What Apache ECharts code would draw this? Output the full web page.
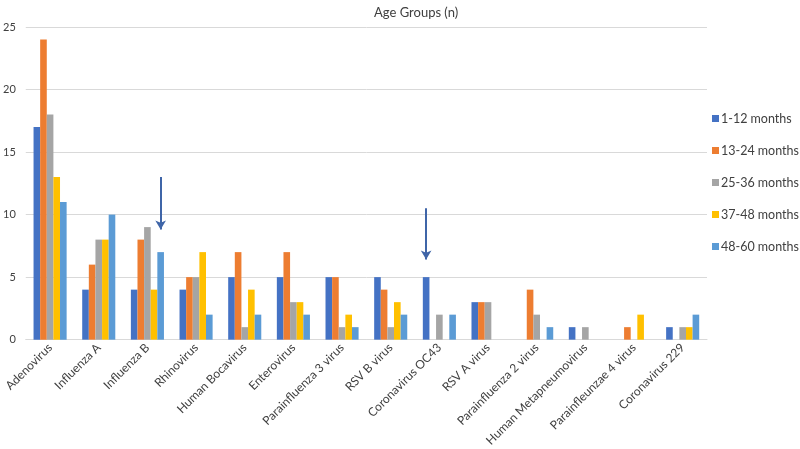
<!DOCTYPE html>
<html><head><meta charset="utf-8">
<script src="https://cdn.jsdelivr.net/npm/echarts@6/dist/echarts.min.js"></script>
<style>html,body{margin:0;padding:0;background:#fff}#c{width:800px;height:449px}</style>
</head><body><div id="c"></div>
<script>
const categories = ['Adenovirus','Influenza A','Influenza B','Rhinovirus','Human Bocavirus','Enterovirus','Parainfluenza 3 virus','RSV B virus','Coronavirus OC43','RSV A virus','Parainfluenza 2 virus','Human Metapneumovirus','Parainfleunzae 4 virus','Coronavirus 229'];
const m1_12  = [17, 4, 4, 4, 5, 5, 5, 5, 5, 3, null, 1, null, 1];
const m13_24 = [24, 6, 8, 5, 7, 7, 5, 4, null, 3, 4, null, 1, null];
const m25_36 = [18, 8, 9, 5, 1, 3, 1, 1, 2, 3, 2, 1, null, 1];
const m37_48 = [13, 8, 4, 7, 4, 3, 2, 3, null, null, null, null, 2, 1];
const m48_60 = [11, 10, 7, 2, 2, 2, 1, 2, 2, null, 1, null, null, 2];
const seriesNames = ['1-12 months','13-24 months','25-36 months','37-48 months','48-60 months'];
const seriesData = [m1_12, m13_24, m25_36, m37_48, m48_60];
const colors = ['#4472C4','#ED7D31','#A5A5A5','#FFC000','#5B9BD5'];
const yTicks = [0, 5, 10, 15, 20, 25];
// arrows: [category, series index, from value, to value]
const arrows = [['Influenza B', 4, 13, 8.8], ['Coronavirus OC43', 0, 10.5, 6.4]];

const font = 'Lato, Open Sans, sans-serif';
const chart = echarts.init(document.getElementById('c'));
const series = seriesNames.map((n, i) => {
  const s = {
    name: n, type: 'bar', data: seriesData[i],
    itemStyle: {color: colors[i]},
    barGap: 0, barCategoryGap: '32%'
  };
  const arr = arrows.filter(a => a[1] === i);
  if (arr.length) {
    s.markLine = {
      silent: true, symbol: ['none', 'arrow'], symbolSize: [8, 9],
      label: {show: false},
      lineStyle: {color: '#3F65A8', width: 2, type: 'solid'},
      data: arr.map(a => [{coord: [a[0], a[2]]}, {coord: [a[0], a[3]]}])
    };
  }
  return s;
});
chart.setOption({
  animation: false,
  title: {text: 'Age Groups (n)', left: 369, top: 1,
    textStyle: {fontFamily: font, fontSize: 13, fontWeight: 'normal', color: '#404040'}},
  legend: {orient: 'vertical', left: 707, top: 107, itemWidth: 7, itemHeight: 7, itemGap: 19,
    icon: 'rect', data: seriesNames,
    textStyle: {fontFamily: font, fontSize: 12.5, color: '#404040', padding: [0,0,0,-3]}},
  grid: {left: 23, right: 93, top: 27, bottom: 108, containLabel: false},
  xAxis: {type: 'category', data: categories,
    axisLine: {lineStyle: {color: '#d9d9d9'}}, axisTick: {show: false},
    axisLabel: {rotate: 45, interval: 0, fontFamily: font, fontSize: 12, color: '#404040', margin: 6}},
  yAxis: {type: 'value', min: yTicks[0], max: yTicks[yTicks.length-1], interval: 5,
    axisLine: {show: false}, axisTick: {show: false},
    splitLine: {lineStyle: {color: '#d9d9d9'}},
    axisLabel: {fontFamily: font, fontSize: 11, color: '#404040', margin: 10}},
  series: series
});
</script></body></html>
